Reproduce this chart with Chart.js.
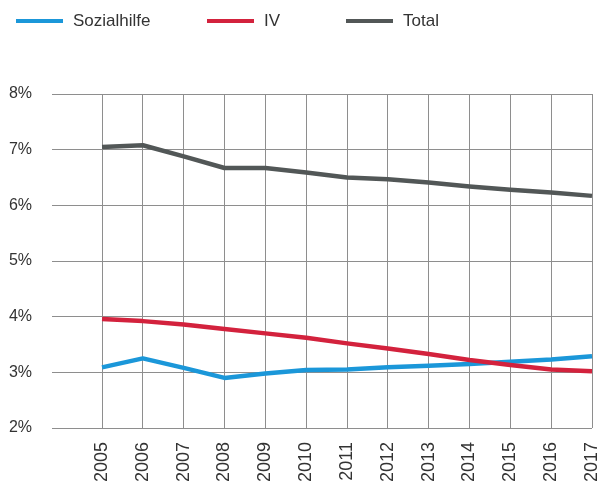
<!DOCTYPE html>
<html><head><meta charset="utf-8">
<script src="https://cdn.jsdelivr.net/npm/chart.js@4"></script>
<style>
html,body{margin:0;padding:0;background:#fff;}
#wrap{position:relative;width:603px;height:484px;}
#legend{position:absolute;left:0;top:0;width:603px;height:40px;font-family:"Liberation Sans",Arial,sans-serif;font-size:17px;color:#333;}
.item{position:absolute;top:11px;height:20px;display:flex;align-items:center;white-space:nowrap;}
.sw{width:47px;height:4px;margin-right:10px;}
</style></head>
<body><div id="wrap"><canvas id="c" width="603" height="484"></canvas><div id="legend"></div></div>
<script>
const years = [2005, 2006, 2007, 2008, 2009, 2010, 2011, 2012, 2013, 2014, 2015, 2016, 2017];
const sozialhilfe = [3.09, 3.25, 3.08, 2.90, 2.98, 3.04, 3.05, 3.09, 3.12, 3.15, 3.19, 3.23, 3.29];
const iv = [3.96, 3.92, 3.86, 3.78, 3.70, 3.62, 3.52, 3.43, 3.33, 3.22, 3.13, 3.05, 3.02];
const total = [7.05, 7.08, 6.88, 6.67, 6.67, 6.59, 6.50, 6.47, 6.41, 6.34, 6.28, 6.23, 6.17];
const yTicks = [2, 3, 4, 5, 6, 7, 8];
const seriesNames = ['Sozialhilfe', 'IV', 'Total'];

const FONT = '"Liberation Sans", Arial, sans-serif';
const pts = arr => arr.map((v, i) => ({x: years[i], y: v}));

const chart = new Chart(document.getElementById('c'), {
  type: 'line',
  data: {
    datasets: [
      {label: seriesNames[0], data: pts(sozialhilfe), borderColor: '#1b97d9', order: 1},
      {label: seriesNames[1], data: pts(iv), borderColor: '#d3223d', order: 0},
      {label: seriesNames[2], data: pts(total), borderColor: '#525757', order: 2}
    ].map(d => Object.assign(d, {borderWidth: 4.5, pointRadius: 0, tension: 0, fill: false, clip: false, borderJoinStyle: 'round'}))
  },
  options: {
    responsive: false,
    animation: false,
    devicePixelRatio: 1,
    layout: {padding: {top: 94, right: 11, left: 0, bottom: 0}},
    plugins: {legend: {display: false}, tooltip: {enabled: false}},
    scales: {
      x: {
        type: 'linear', min: 2003.775, max: 2017,
        afterBuildTicks: s => { s.ticks = years.map(v => ({value: v})); },
        afterFit: s => { s.height = 56; s.paddingLeft = 0; s.paddingRight = 0; },
        grid: {color: '#8e8e8e', lineWidth: 1, drawTicks: false},
        border: {display: false},
        ticks: {minRotation: 90, maxRotation: 90, padding: 14, autoSkip: false, color: '#333',
          font: {family: FONT, size: 18}, callback: v => String(v)}
      },
      y: {
        min: 2, max: 8,
        afterBuildTicks: s => { s.ticks = yTicks.map(v => ({value: v})); },
        afterFit: s => { s.width = 52; s.paddingTop = 0; s.paddingBottom = 0; },
        grid: {color: '#8e8e8e', lineWidth: 1, drawTicks: false},
        border: {display: false},
        ticks: {padding: 20, color: '#333', font: {family: FONT, size: 16}, callback: v => v + '%'}
      }
    }
  }
});

const legendX = [16, 207, 346];
const lg = document.getElementById('legend');
chart.data.datasets.forEach((d, i) => {
  const it = document.createElement('div');
  it.className = 'item';
  it.style.left = legendX[i] + 'px';
  const sw = document.createElement('span');
  sw.className = 'sw';
  sw.style.background = d.borderColor;
  const tx = document.createElement('span');
  tx.textContent = d.label;
  it.appendChild(sw); it.appendChild(tx);
  lg.appendChild(it);
});
</script>
</body></html>
